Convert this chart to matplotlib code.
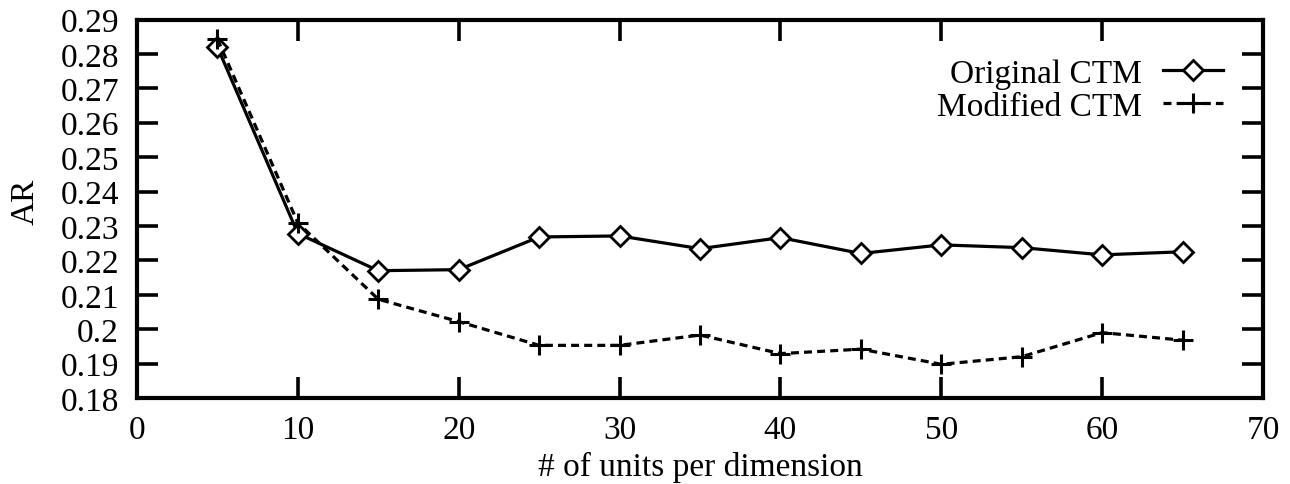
import matplotlib
matplotlib.use("Agg")
import matplotlib.pyplot as plt

units = [5, 10, 15, 20, 25, 30, 35, 40, 45, 50, 55, 60, 65]
ar_original = [0.2820, 0.2278, 0.2170, 0.2173, 0.2268, 0.2271, 0.2234,
               0.2266, 0.2220, 0.2245, 0.2237, 0.2216, 0.2225]
ar_modified = [0.2843, 0.2309, 0.2087, 0.2022, 0.1953, 0.1953, 0.1983,
               0.1929, 0.1942, 0.1898, 0.1920, 0.1990, 0.1968]

x_ticks = [0, 10, 20, 30, 40, 50, 60, 70]
y_ticks = [0.18, 0.19, 0.2, 0.21, 0.22, 0.23, 0.24, 0.25, 0.26, 0.27, 0.28, 0.29]
y_ticklabels = ["0.18", "0.19", "0.2", "0.21", "0.22", "0.23", "0.24",
                "0.25", "0.26", "0.27", "0.28", "0.29"]

plt.rcParams["font.family"] = ["Liberation Serif", "DejaVu Serif"]
plt.rcParams["font.size"] = 24

fig = plt.figure(figsize=(12.9, 4.85), dpi=100)
ax = fig.add_axes([137 / 1290, 1 - 399 / 485, 1126 / 1290, 378.5 / 485])

ax.plot(units, ar_original, color="black", lw=2.3, marker="D", ms=10,
        mfc="white", mec="black", mew=2.0, label="Original CTM")
ax.plot(units, ar_modified, color="black", lw=2.3, dashes=(2.5, 1.6),
        marker="+", ms=15, mew=2.2, label="Modified CTM")

ax.set_xlim(0, 70)
ax.set_ylim(0.18, 0.29)
ax.set_xticks(x_ticks)
ax.set_yticks(y_ticks)
ax.set_yticklabels(y_ticklabels)
ax.tick_params(direction="in", length=15, width=2.6, top=True, right=True,
               labelsize=24)
ax.tick_params(axis="y", pad=13)
ax.tick_params(axis="x", pad=12)
for spine in ax.spines.values():
    spine.set_linewidth(3.0)

ax.set_xlabel("# of units per dimension", fontsize=24)
ax.xaxis.set_label_coords(0.5, -0.141)
ax.set_ylabel("AR", fontsize=24)
ax.yaxis.set_label_coords(-0.086, 0.52)

ax.legend(loc="upper right", bbox_to_anchor=(0.9645, 0.898), frameon=False,
          markerfirst=False, handlelength=1.8, handletextpad=0.63,
          labelspacing=0.08, borderpad=0, borderaxespad=0, fontsize=24)

fig.savefig("out.png", dpi=100)
